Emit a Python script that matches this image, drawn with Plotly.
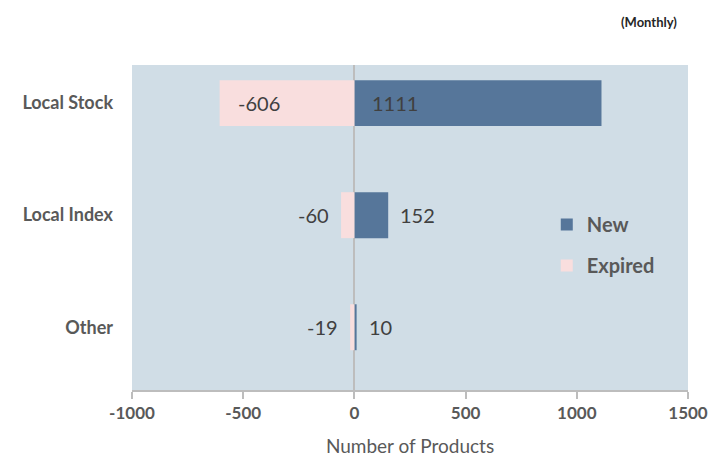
import plotly.graph_objects as go

# Monthly product counts by category
categories = ["Local Stock", "Local Index", "Other"]
new_products = [1111, 152, 10]
expired_products = [-606, -60, -19]
x_ticks = [-1000, -500, 0, 500, 1000, 1500]

# label placement per category: inside the bar or just outside it
new_inside = [True, False, False]
expired_inside = [True, False, False]

FONT = "Lato, Open Sans, sans-serif"
ypos = list(range(len(categories)))
label_font = dict(family=FONT, size=20, color="#404040")

fig = go.Figure()
fig.add_trace(go.Bar(
    name="New", y=ypos, x=new_products, orientation="h",
    marker=dict(color="#56769A", line=dict(width=0)),
    width=0.41, legendgroup="new",
))
fig.add_trace(go.Bar(
    name="Expired", y=ypos, x=expired_products, orientation="h",
    marker=dict(color="#F9DEDE", line=dict(width=0)),
    width=0.41, legendgroup="expired",
))

# value labels
for yi, v, inside in zip(ypos, new_products, new_inside):
    if inside:
        fig.add_annotation(x=0, y=yi, text=str(v), xanchor="left", xshift=16,
                           showarrow=False, font=label_font)
    else:
        fig.add_annotation(x=v, y=yi, text=str(v), xanchor="left", xshift=10,
                           showarrow=False, font=label_font)
for yi, v, inside in zip(ypos, expired_products, expired_inside):
    if inside:
        fig.add_annotation(x=v, y=yi, text=str(v), xanchor="left", xshift=16,
                           showarrow=False, font=label_font)
    else:
        fig.add_annotation(x=v, y=yi, text=str(v), xanchor="right", xshift=-10,
                           showarrow=False, font=label_font)

fig.update_layout(
    width=713, height=457,
    margin=dict(l=132, r=25, t=65, b=67, autoexpand=False),
    paper_bgcolor="white",
    plot_bgcolor="#D0DDE6",
    barmode="relative",
    showlegend=True,
    legend=dict(
        x=0.746, y=0.569, xanchor="left", yanchor="top",
        bgcolor="rgba(0,0,0,0)",
        font=dict(family=FONT, size=20, color="#595959", weight="bold"),
        traceorder="grouped", itemsizing="constant", tracegroupgap=12,
        itemwidth=30,
    ),
    font=dict(family=FONT, color="#595959"),
)

fig.update_xaxes(
    range=[-1000, 1500], tickvals=x_ticks, ticktext=[str(t) for t in x_ticks],
    showgrid=False, zeroline=True, zerolinecolor="#BDBDBD", zerolinewidth=2,
    showline=True, linecolor="#BDBDBD", linewidth=1.5,
    ticks="outside", ticklen=7, tickcolor="#BDBDBD", tickwidth=1.5,
    tickfont=dict(size=17, color="#595959", weight="bold"),
    title=dict(text="Number of Products", font=dict(size=19, color="#595959"), standoff=20),
    automargin=False,
)
fig.update_yaxes(
    range=[2.56, -0.34], tickvals=ypos, ticktext=categories,
    showgrid=False, zeroline=False, showline=False, ticks="",
    tickfont=dict(size=18, color="#595959", weight="bold"),
    ticklabelstandoff=18, automargin=False,
)

fig.add_annotation(
    text="(Monthly)", xref="paper", yref="paper", x=1.0, y=1.0,
    xanchor="right", yanchor="middle", yshift=43, xshift=-9, showarrow=False,
    font=dict(family=FONT, size=13, color="#262626", weight="bold"),
)

fig.write_html("out.html")
